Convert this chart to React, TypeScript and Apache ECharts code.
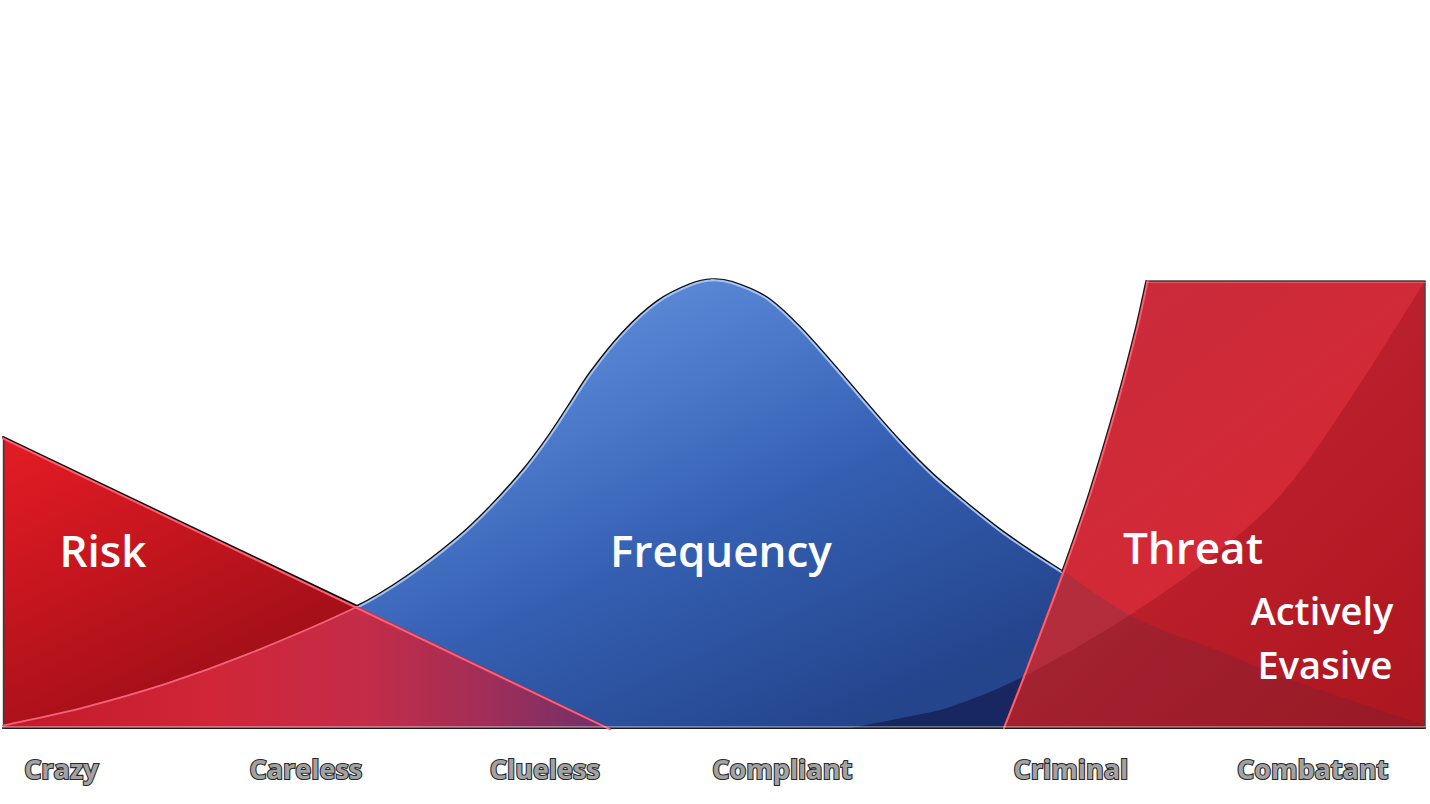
import React, { useEffect, useRef } from "react";
import * as echarts from "echarts";

type Pt = [number, number];
type Seg = { c1: Pt; c2: Pt; p: Pt };

// ---------- data (x: 0..100 across the chart, y: 0..100 height) ----------
const CATEGORIES = ["Crazy", "Careless", "Clueless", "Compliant", "Criminal", "Combatant"];
const CATEGORY_POS = [4.1, 21.3, 38.1, 54.8, 75.1, 92.1];

const RISK_LINE: Pt[] = [
  [0, 65.1],
  [42.7, 0],
];

const FREQUENCY: Pt[] = [
  [0, 0.7], [5.6, 4.7], [11.5, 10.1], [17.3, 16.8], [24.9, 27.3],
  [28.4, 34.0], [31.9, 42.5], [34.2, 49.4], [36.6, 57.9], [38.3, 65.1],
  [39.7, 71.8], [41.3, 79.6], [43.6, 88.6], [46.0, 95.5], [48.3, 99.3],
  [49.9, 100.4], [51.3, 99.8], [53.7, 96.4], [56.0, 89.9], [58.4, 81.4],
  [60.8, 72.5], [63.1, 64.2], [65.4, 56.8], [67.8, 50.3], [70.1, 44.5],
  [72.4, 39.4], [74.5, 35.1], [79.5, 24.8], [85.4, 17.4], [90.0, 11.4],
  [94.7, 6.3], [99.9, 0.7],
];

const THREAT_EDGE: Pt[] = [
  [70.3, 0], [71.7, 11.4], [74.5, 35.1], [76.4, 52.7], [78.3, 72.9], [79.7, 89.9], [80.4, 100],
];
const THREAT_TOP: Pt[] = [
  [80.4, 100],
  [100, 100],
  [100, 0],
];

const EVASIVE: Pt[] = [
  [59.6, 0], [63.1, 2.2], [66.6, 4.7], [71.7, 11.4], [79.5, 25.8],
  [85.4, 39.2], [90.0, 52.7], [94.7, 73.5], [100, 100],
];

// crossing indices (shared points between the curves)
const FREQ_RISK_CROSS = 4; // FREQUENCY[4] lies on the risk line
const FREQ_THREAT_CROSS = 26; // FREQUENCY[26] === THREAT_EDGE[2]
const EDGE_FREQ_CROSS = 2;
const EDGE_EVASIVE_CROSS = 1; // THREAT_EDGE[1] === EVASIVE[3]
const EVASIVE_EDGE_CROSS = 3;

// ---------- path helpers ----------
function bez(pts: Pt[]): Seg[] {
  const n = pts.length;
  const tang: Pt[] = pts.map((p, i) => {
    const prev = pts[Math.max(0, i - 1)];
    const next = pts[Math.min(n - 1, i + 1)];
    const d0 = Math.hypot(p[0] - prev[0], p[1] - prev[1]);
    const d1 = Math.hypot(next[0] - p[0], next[1] - p[1]);
    const s = d0 + d1 || 1;
    return [(next[0] - prev[0]) / s, (next[1] - prev[1]) / s];
  });
  const segs: Seg[] = [];
  for (let i = 1; i < n; i++) {
    const a = pts[i - 1];
    const b = pts[i];
    const d = Math.hypot(b[0] - a[0], b[1] - a[1]) / 3;
    segs.push({
      c1: [a[0] + tang[i - 1][0] * d, a[1] + tang[i - 1][1] * d],
      c2: [b[0] - tang[i][0] * d, b[1] - tang[i][1] * d],
      p: b,
    });
  }
  return segs;
}
const f = (p: Pt) => `${p[0].toFixed(2)},${p[1].toFixed(2)}`;
function fwd(pts: Pt[], segs: Seg[], i: number, j: number, cmd = "M") {
  let s = `${cmd}${f(pts[i])}`;
  for (let k = i + 1; k <= j; k++) {
    const g = segs[k - 1];
    s += `C${f(g.c1)} ${f(g.c2)} ${f(g.p)}`;
  }
  return s;
}
function rev(pts: Pt[], segs: Seg[], j: number, i: number, cmd = "L") {
  let s = `${cmd}${f(pts[j])}`;
  for (let k = j; k > i; k--) {
    const g = segs[k - 1];
    s += `C${f(g.c2)} ${f(g.c1)} ${f(pts[k - 1])}`;
  }
  return s;
}
const L = (p: Pt) => `L${f(p)}`;

function geom(api: any) {
  const c = (p: Pt): Pt => api.coord(p) as Pt;
  const freq = FREQUENCY.map(c);
  const edge = THREAT_EDGE.map(c);
  const ev = EVASIVE.map(c);
  const risk = RISK_LINE.map(c);
  const top = THREAT_TOP.map(c);
  const by = c([0, 0])[1];
  return { c, freq, fs: bez(freq), edge, es: bez(edge), ev, vs: bez(ev), risk, top, by };
}

const path = (d: string, style: any, extra: any = {}) => ({
  type: "path",
  shape: { pathData: d },
  style: { lineJoin: "round", lineCap: "round", ...style },
  ...extra,
});

const lg = (x: number, y: number, x2: number, y2: number, stops: [number, string][]) =>
  new echarts.graphic.LinearGradient(
    x, y, x2, y2,
    stops.map(([offset, color]) => ({ offset, color })),
    true
  );

function customSeries(name: string, z: number, build: (g: ReturnType<typeof geom>) => any[]) {
  return {
    type: "custom",
    name,
    coordinateSystem: "cartesian2d",
    silent: true,
    z,
    data: [[0, 0]],
    renderItem: (_params: any, api: any) => ({ type: "group", children: build(geom(api)) }),
  };
}

const FONT = '"Open Sans", "Noto Sans", sans-serif';

function buildOption(): any {
  return {
    animation: false,
    grid: { left: 3, right: 5, top: 281, bottom: 76, outerBoundsMode: "none" },
    xAxis: {
      type: "value",
      min: 0,
      max: 100,
      offset: 1,
      splitLine: { show: false },
      axisTick: { show: false },
      axisLine: { show: true, lineStyle: { color: "#1c1c1c", width: 2 } },
      axisLabel: {
        customValues: CATEGORY_POS,
        formatter: (v: number) => {
          const i = CATEGORY_POS.findIndex((p) => Math.abs(p - v) < 1e-6);
          return i >= 0 ? CATEGORIES[i] : "";
        },
        margin: 25,
        color: "#a2a2a2",
        fontFamily: FONT,
        fontWeight: "bold",
        fontSize: 27,
        lineHeight: 28,
        textBorderColor: "#2a2a2a",
        textBorderWidth: 2.2,
        showMinLabel: true,
        showMaxLabel: true,
      },
    },
    yAxis: { type: "value", min: 0, max: 100, show: false },
    series: [
      customSeries("Frequency", 2, (g) => {
        const n = g.freq.length;
        const d =
          `M${f([g.freq[0][0], g.by])}` +
          fwd(g.freq, g.fs, 0, n - 1, "L") +
          L([g.freq[n - 1][0], g.by]) +
          "Z";
        return [
          path(d, {
            fill: lg(650, 281, 850, 728, [
              [0, "#5c89d7"],
              [0.25, "#4a76c8"],
              [0.5, "#3560b3"],
              [0.75, "#2c529f"],
              [1, "#24448c"],
            ]),
            stroke: "none",
          }),
          path(fwd(g.freq, g.fs, FREQ_RISK_CROSS, FREQ_THREAT_CROSS, "M"), {
            fill: "none",
            stroke: "#101010",
            lineWidth: 2,
          }),
          path(fwd(g.freq, g.fs, FREQ_RISK_CROSS, 15, "M"), {
            fill: "none",
            stroke: "#a4c3f4",
            lineWidth: 2,
          }, { x: 0.9, y: 1.1 }),
          path(fwd(g.freq, g.fs, 15, FREQ_THREAT_CROSS, "M"), {
            fill: "none",
            stroke: "#a4c3f4",
            lineWidth: 2,
          }, { x: -0.9, y: 1.1 }),
        ];
      }),
      customSeries("Risk", 3, (g) => {
        const d = `M${f([g.risk[0][0], g.by])}` + L(g.risk[0]) + L(g.risk[1]) + "Z";
        return [
          path(d, {
            fill: lg(3, 437, 140, 728, [
              [0, "#e41c25"],
              [0.45, "#c8161f"],
              [1, "#a00f18"],
            ]),
            stroke: "none",
          }),
          path(`M${f(g.risk[0])}` + L(g.freq[FREQ_RISK_CROSS]), {
            fill: "none",
            stroke: "#101010",
            lineWidth: 2,
          }),
          path(`M${f([g.risk[0][0], g.by])}` + L(g.risk[0]), {
            fill: "none",
            stroke: "#3a3a3a",
            lineWidth: 1.6,
          }, { x: 0.6 }),
        ];
      }),
      customSeries("Risk × Frequency", 4, (g) => {
        const d =
          `M${f([g.freq[0][0], g.by])}` +
          fwd(g.freq, g.fs, 0, FREQ_RISK_CROSS, "L") +
          L(g.risk[1]) +
          "Z";
        return [
          path(d, {
            fill: lg(3, 0, 610, 0, [
              [0, "#c31a2a"],
              [0.35, "#d02638"],
              [0.6, "#c42c48"],
              [0.8, "#a02e58"],
              [1, "#6e306c"],
            ]),
            stroke: "none",
          }),
          path(fwd(g.freq, g.fs, 0, FREQ_RISK_CROSS, "M"), {
            fill: "none",
            stroke: "#f4627a",
            lineWidth: 1.8,
          }, { y: 0.8 }),
          path(`M${f(g.risk[0])}` + L(g.risk[1]), {
            fill: "none",
            stroke: "#ff5f70",
            lineWidth: 2,
          }, { y: 1.3 }),
        ];
      }),
      customSeries("Threat", 5, (g) => {
        const m = g.edge.length;
        const d = fwd(g.edge, g.es, 0, m - 1, "M") + L(g.top[1]) + L(g.top[2]) + "Z";
        return [
          path(d, {
            fill: lg(1148, 282, 1425, 650, [
              [0, "#ca2b3b"],
              [0.5, "#d32936"],
              [1, "#d9232d"],
            ]),
            stroke: "none",
          }),
        ];
      }),
      customSeries("Threat × Frequency", 6, (g) => {
        const n = g.freq.length;
        const d =
          fwd(g.edge, g.es, 0, EDGE_FREQ_CROSS, "M") +
          fwd(g.freq, g.fs, FREQ_THREAT_CROSS, n - 1, "L") +
          L([g.freq[n - 1][0], g.by]) +
          "Z";
        return [path(d, { fill: "rgba(70,60,85,0.22)", stroke: "none" })];
      }),
      customSeries("Actively Evasive", 7, (g) => {
        const k = g.ev.length;
        const blue =
          fwd(g.ev, g.vs, 0, EVASIVE_EDGE_CROSS, "M") +
          rev(g.edge, g.es, EDGE_EVASIVE_CROSS, 0, "L") +
          "Z";
        const red =
          fwd(g.edge, g.es, 0, EDGE_EVASIVE_CROSS, "M") +
          fwd(g.ev, g.vs, EVASIVE_EDGE_CROSS, k - 1, "L") +
          L(g.top[2]) +
          "Z";
        return [
          path(blue, { fill: "rgba(12,10,52,0.5)", stroke: "none" }),
          path(red, {
            fill: lg(1150, 450, 1425, 728, [
              [0, "rgba(120,0,12,0.22)"],
              [1, "rgba(90,0,10,0.36)"],
            ]),
            stroke: "none",
          }),
        ];
      }),
      customSeries("Edges", 8, (g) => {
        const m = g.edge.length;
        return [
          path(fwd(g.edge, g.es, EDGE_FREQ_CROSS, m - 1, "M"), {
            fill: "none",
            stroke: "#1a1a1a",
            lineWidth: 2,
          }),
          path(`M${f(g.edge[m - 1])}` + L(g.top[1]) + L(g.top[2]), {
            fill: "none",
            stroke: "#444444",
            lineWidth: 1.5,
          }),
          path(fwd(g.edge, g.es, 0, m - 1, "M"), {
            fill: "none",
            stroke: "#ff5d6c",
            lineWidth: 2,
          }, { x: 1.4 }),
          path(`M${f(g.edge[m - 1])}` + L(g.top[1]), {
            fill: "none",
            stroke: "rgba(255,120,130,0.55)",
            lineWidth: 1.2,
          }, { y: 1.5 }),
          path(`M${f([g.risk[0][0], g.by])}` + L([g.top[2][0], g.by]), {
            fill: "none",
            stroke: "rgba(255,255,255,0.32)",
            lineWidth: 1.5,
          }, { y: -1.2 }),
        ];
      }),
    ],
    graphic: [
      {
        type: "line",
        z: 50,
        shape: { x1: 3, y1: 797, x2: 1428, y2: 797 },
        style: {
          stroke: new echarts.graphic.LinearGradient(0, 0, 1, 0, [
            { offset: 0, color: "#5a5a5a" },
            { offset: 0.08, color: "#2a2a2a" },
            { offset: 0.92, color: "#2a2a2a" },
            { offset: 1, color: "#6a6a6a" },
          ]),
          lineWidth: 3,
        },
      },
      ...[
        { text: "Risk", x: 103, y: 550, size: 44 },
        { text: "Frequency", x: 721, y: 550, size: 44 },
        { text: "Threat", x: 1193, y: 547, size: 44 },
        { text: "Actively", x: 1322, y: 610, size: 38 },
        { text: "Evasive", x: 1325, y: 664, size: 38 },
      ].map((t) => ({
        type: "text",
        z: 100,
        x: t.x,
        y: t.y,
        style: {
          text: t.text,
          fill: "#ffffff",
          font: `600 ${t.size}px ${FONT}`,
          textAlign: "center",
          textVerticalAlign: "middle",
          align: "center",
          verticalAlign: "middle",
        },
      })),
    ],
  };
}

export default function App() {
  const ref = useRef<HTMLDivElement>(null);
  useEffect(() => {
    if (!ref.current) return;
    const chart = echarts.init(ref.current, null, { renderer: "svg" });
    chart.setOption(buildOption());
    return () => chart.dispose();
  }, []);
  return (
    <div
      ref={ref}
      style={{ position: "absolute", left: 0, top: 0, width: 1430, height: 804, background: "#ffffff" }}
    />
  );
}
